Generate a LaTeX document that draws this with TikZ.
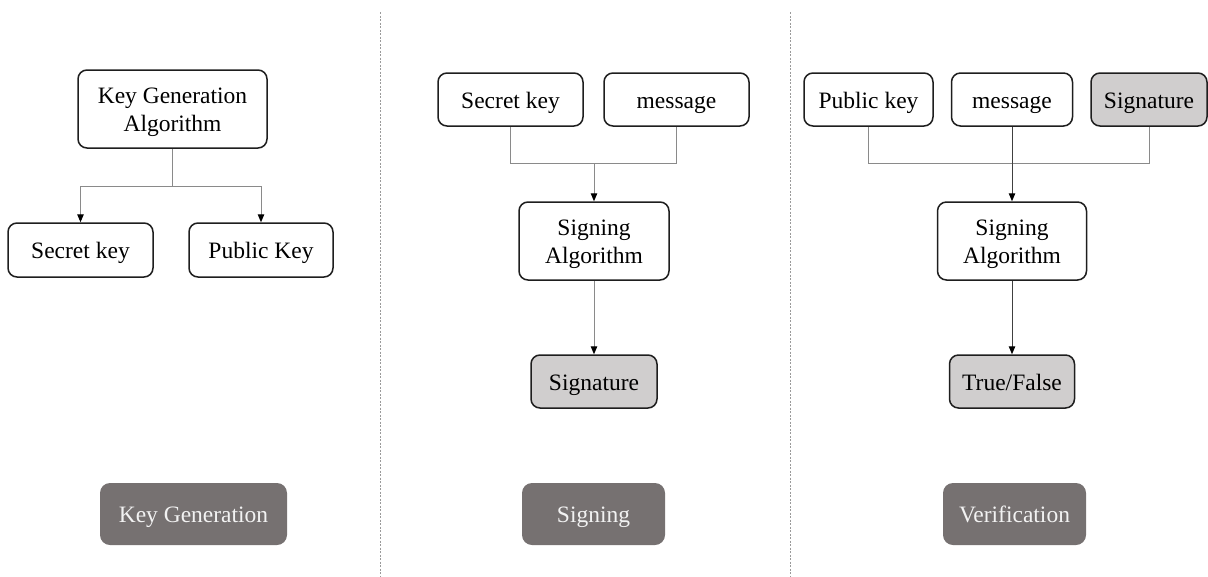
\documentclass[tikz,border=0pt]{standalone}
\usepackage{fontspec}
\setmainfont{Liberation Serif}
\usetikzlibrary{arrows.meta}
\definecolor{boxline}{HTML}{1E1E1E}
\definecolor{lightfill}{HTML}{D0CECE}
\definecolor{tagfill}{HTML}{767171}
\definecolor{tagtext}{HTML}{F2F2F2}
\definecolor{wire}{HTML}{8A8A8A}
\definecolor{sep}{HTML}{9A9A9A}
% strut that sets the height of the first line in two-line boxes
\newcommand{\firstline}{\rule{0pt}{22pt}}
\tikzset{
  blk/.style={draw=boxline, line width=1.5pt, rounded corners=9pt, fill=white,
    align=center, inner sep=0pt, font=\fontsize{23.5}{28}\selectfont},
  one/.style={blk, text height=19pt, text depth=2pt},
  res/.style={one, fill=lightfill},
  tag/.style={draw=none, fill=tagfill, rounded corners=10pt, text=tagtext,
    inner sep=0pt, minimum height=62pt, text height=19pt, text depth=2pt,
    font=\fontsize{23.5}{27}\selectfont},
  wireline/.style={draw=wire, line width=1pt},
  arr/.style={wireline, -{Triangle[length=8pt,width=6.5pt,color=black]}},
  darkarr/.style={draw=black!75, line width=1pt, -{Triangle[length=8pt,width=6.5pt,color=black]}},
  divider/.style={draw=sep, line width=0.8pt, dash pattern=on 2pt off 1.5pt}
}
\begin{document}
\begin{tikzpicture}[x=1pt, y=-1pt]
\useasboundingbox (0,0) rectangle (1208,576);

% column dividers
\coordinate (d1t) at (380,12); \coordinate (d1b) at (380,576);
\coordinate (d2t) at (790,12); \coordinate (d2b) at (790,576);
\draw[divider] (d1t) -- (d1b);
\draw[divider] (d2t) -- (d2b);

% --- key generation ---
\node[blk, minimum width=189pt, minimum height=78pt] (kga) at (172.5,109) {\firstline Key Generation\\Algorithm};
\node[one, minimum width=145pt, minimum height=54pt] (sk1) at (80.5,250) {Secret key};
\node[one, minimum width=144pt, minimum height=54pt] (pk1) at (261,250) {Public Key};
\coordinate (j1) at (172.5,186);
\draw[wireline] (kga.south) -- (j1);
\draw[arr] (j1) -| (sk1.north);
\draw[arr] (j1) -| (pk1.north);
\node[tag, minimum width=187pt] (t1) at (193.5,514) {Key Generation};

% --- signing ---
\node[one, minimum width=145pt, minimum height=53pt] (sk2) at (510.5,99.5) {Secret key};
\node[one, minimum width=145pt, minimum height=53pt] (msg2) at (676.5,99.5) {message};
\node[blk, minimum width=150pt, minimum height=78pt] (sa2) at (594,241) {\firstline Signing\\Algorithm};
\node[res, minimum width=126pt, minimum height=53pt] (sig2) at (594,381.5) {Signature};
\coordinate (j2) at (594,163);
\draw[wireline] (sk2.south) |- (j2);
\draw[wireline] (msg2.south) |- (j2);
\draw[arr] (j2) -- (sa2.north);
\draw[arr] (sa2.south) -- (sig2.north);
\node[tag, minimum width=143pt] (t2) at (593.5,514) {Signing};

% --- verification ---
\node[one, minimum width=129pt, minimum height=53pt] (pk3) at (868.5,99.5) {Public key};
\node[one, minimum width=121pt, minimum height=53pt] (msg3) at (1012,99.5) {message};
\node[res, minimum width=116pt, minimum height=53pt] (sig3) at (1149,99.5) {Signature};
\node[blk, minimum width=149pt, minimum height=78pt] (sa3) at (1012,241) {\firstline Signing\\Algorithm};
\node[res, minimum width=125pt, minimum height=53pt] (tf3) at (1012,381.5) {True/False};
\coordinate (j3) at (1012,163);
\draw[wireline] (pk3.south) |- (j3);
\draw[wireline] (sig3.south) |- (j3);
\draw[darkarr] (msg3.south) -- (sa3.north);
\draw[darkarr] (sa3.south) -- (tf3.north);
\node[tag, minimum width=143pt] (t3) at (1014.5,514) {Verification};
\end{tikzpicture}
\end{document}
